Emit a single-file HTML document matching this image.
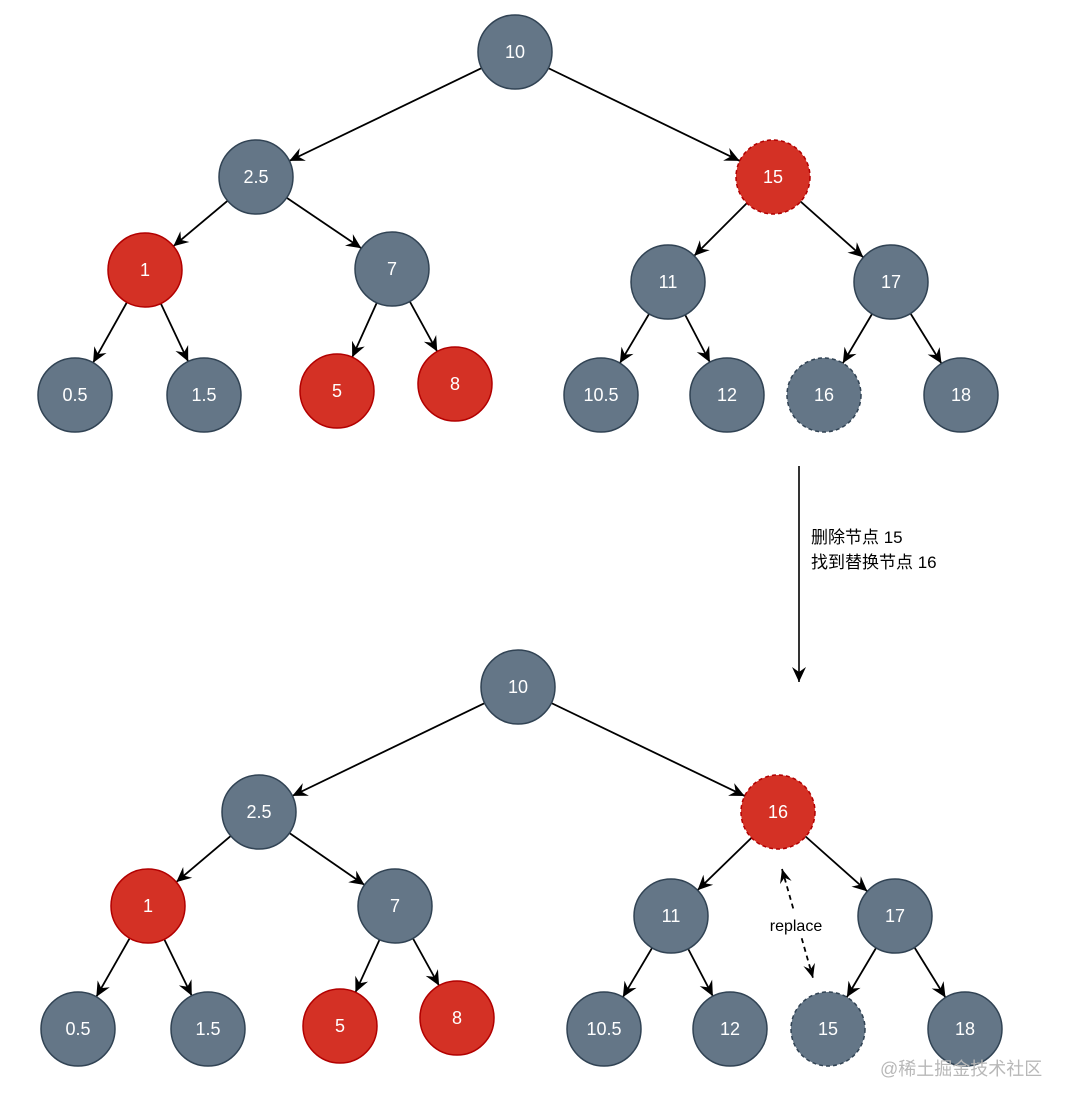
<!DOCTYPE html>
<html><head><meta charset="utf-8"><style>
html,body{margin:0;padding:0;background:#fff;}
svg{display:block;}
text{font-family:"Liberation Sans","Noto Sans CJK SC",sans-serif;}
</style></head><body>
<svg width="1070" height="1106" viewBox="0 0 1070 1106" xmlns="http://www.w3.org/2000/svg">
<defs>
<marker id="a" markerUnits="userSpaceOnUse" markerWidth="100" markerHeight="100" refX="37" refY="0" orient="auto" overflow="visible" viewBox="-50 -50 100 100">
<path d="M-15,-7 L0,0 L-15,7 L-10,0 z" fill="#000"/>
</marker>
<marker id="b" markerUnits="userSpaceOnUse" markerWidth="100" markerHeight="100" refX="0" refY="0" orient="auto" overflow="visible" viewBox="-50 -50 100 100">
<path d="M-15,-7 L0,0 L-15,7 L-10,0 z" fill="#000"/>
</marker>
<marker id="c" markerUnits="userSpaceOnUse" markerWidth="100" markerHeight="100" refX="0" refY="0" orient="auto-start-reverse" overflow="visible" viewBox="-50 -50 100 100">
<path d="M-14,-6 L0,0 L-14,6 L-9,0 z" fill="#000"/>
</marker>
</defs>
<g stroke="#000" stroke-width="1.8" marker-end="url(#a)">
<line x1="515" y1="52" x2="256" y2="177"/>
<line x1="515" y1="52" x2="773" y2="177"/>
<line x1="256" y1="177" x2="145" y2="270"/>
<line x1="256" y1="177" x2="392" y2="269"/>
<line x1="773" y1="177" x2="668" y2="282"/>
<line x1="773" y1="177" x2="891" y2="282"/>
<line x1="145" y1="270" x2="75" y2="395"/>
<line x1="145" y1="270" x2="204" y2="395"/>
<line x1="392" y1="269" x2="337" y2="391"/>
<line x1="392" y1="269" x2="455" y2="384"/>
<line x1="668" y1="282" x2="601" y2="395"/>
<line x1="668" y1="282" x2="727" y2="395"/>
<line x1="891" y1="282" x2="824" y2="395"/>
<line x1="891" y1="282" x2="961" y2="395"/>
<line x1="518" y1="687" x2="259" y2="812"/>
<line x1="518" y1="687" x2="778" y2="812"/>
<line x1="259" y1="812" x2="148" y2="906"/>
<line x1="259" y1="812" x2="395" y2="906"/>
<line x1="778" y1="812" x2="671" y2="916"/>
<line x1="778" y1="812" x2="895" y2="916"/>
<line x1="148" y1="906" x2="78" y2="1029"/>
<line x1="148" y1="906" x2="208" y2="1029"/>
<line x1="395" y1="906" x2="340" y2="1026"/>
<line x1="395" y1="906" x2="457" y2="1018"/>
<line x1="671" y1="916" x2="604" y2="1029"/>
<line x1="671" y1="916" x2="730" y2="1029"/>
<line x1="895" y1="916" x2="828" y2="1029"/>
<line x1="895" y1="916" x2="965" y2="1029"/>
</g>
<line x1="799" y1="466" x2="799" y2="682" stroke="#000" stroke-width="1.6" marker-end="url(#b)"/>
<line x1="782" y1="869" x2="813" y2="978" stroke="#000" stroke-width="1.8" stroke-dasharray="5,4" marker-start="url(#c)" marker-end="url(#c)"/>
<rect x="762" y="912" width="68" height="24" fill="#fff"/>
<text x="796" y="931" font-size="16" text-anchor="middle" fill="#000">replace</text>
<text x="811" y="543" font-size="17" fill="#000">删除节点 15</text>
<text x="811" y="568" font-size="17" fill="#000">找到替换节点 16</text>
<g stroke-width="1.5" font-size="18" text-anchor="middle">
<g fill="#647687" stroke="#314354">
<circle cx="515" cy="52" r="37"/><circle cx="256" cy="177" r="37"/><circle cx="392" cy="269" r="37"/>
<circle cx="668" cy="282" r="37"/><circle cx="891" cy="282" r="37"/>
<circle cx="75" cy="395" r="37"/><circle cx="204" cy="395" r="37"/><circle cx="601" cy="395" r="37"/>
<circle cx="727" cy="395" r="37"/><circle cx="961" cy="395" r="37"/>
<circle cx="824" cy="395" r="37" stroke-dasharray="4,3"/>
<circle cx="518" cy="687" r="37"/><circle cx="259" cy="812" r="37"/><circle cx="395" cy="906" r="37"/>
<circle cx="671" cy="916" r="37"/><circle cx="895" cy="916" r="37"/>
<circle cx="78" cy="1029" r="37"/><circle cx="208" cy="1029" r="37"/><circle cx="604" cy="1029" r="37"/>
<circle cx="730" cy="1029" r="37"/><circle cx="965" cy="1029" r="37"/>
<circle cx="828" cy="1029" r="37" stroke-dasharray="4,3"/>
</g>
<g fill="#d43125" stroke="#b20000">
<circle cx="773" cy="177" r="37" stroke-dasharray="4,3"/>
<circle cx="145" cy="270" r="37"/><circle cx="337" cy="391" r="37"/><circle cx="455" cy="384" r="37"/>
<circle cx="778" cy="812" r="37" stroke-dasharray="4,3"/>
<circle cx="148" cy="906" r="37"/><circle cx="340" cy="1026" r="37"/><circle cx="457" cy="1018" r="37"/>
</g>
<g fill="#fff" stroke="none">
<text x="515" y="58">10</text><text x="256" y="183">2.5</text><text x="773" y="183">15</text>
<text x="145" y="276">1</text><text x="392" y="275">7</text><text x="668" y="288">11</text><text x="891" y="288">17</text>
<text x="75" y="401">0.5</text><text x="204" y="401">1.5</text><text x="337" y="397">5</text><text x="455" y="390">8</text>
<text x="601" y="401">10.5</text><text x="727" y="401">12</text><text x="824" y="401">16</text><text x="961" y="401">18</text>
<text x="518" y="693">10</text><text x="259" y="818">2.5</text><text x="778" y="818">16</text>
<text x="148" y="912">1</text><text x="395" y="912">7</text><text x="671" y="922">11</text><text x="895" y="922">17</text>
<text x="78" y="1035">0.5</text><text x="208" y="1035">1.5</text><text x="340" y="1032">5</text><text x="457" y="1024">8</text>
<text x="604" y="1035">10.5</text><text x="730" y="1035">12</text><text x="828" y="1035">15</text><text x="965" y="1035">18</text>
</g>
</g>
<text x="880" y="1075" font-size="18" fill="#b8b8b8">@稀土掘金技术社区</text>
</svg>
</body></html>
